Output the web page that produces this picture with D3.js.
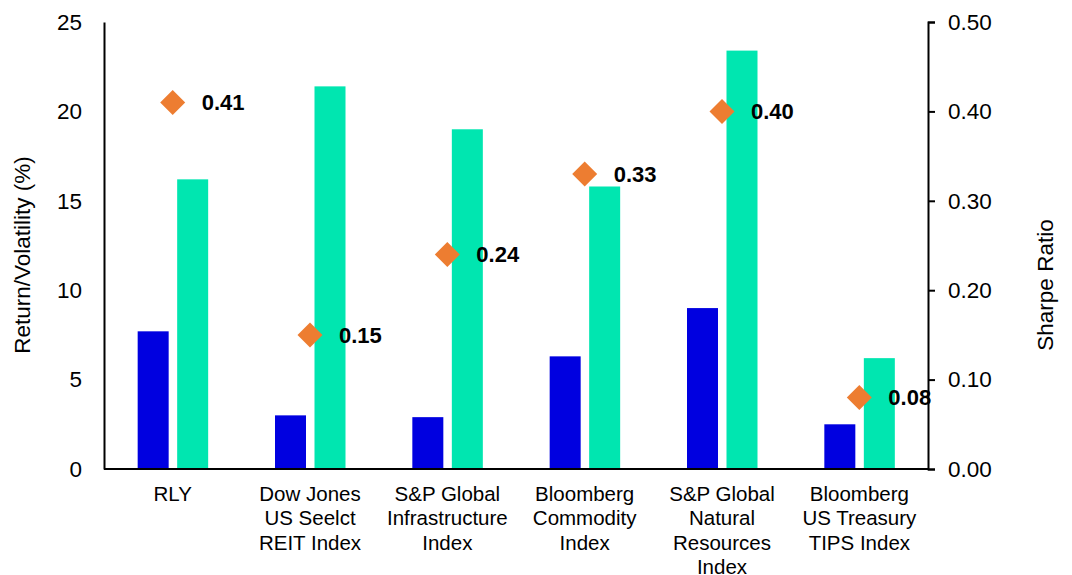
<!DOCTYPE html>
<html>
<head>
<meta charset="utf-8">
<title>Return, volatility and Sharpe ratio</title>
<script src="https://cdn.jsdelivr.net/npm/d3@7"></script>
<style>
  body { margin: 0; background: #fff; }
  text { font-family: Arial, "Liberation Sans", sans-serif; fill: #000; }
</style>
</head>
<body>
<svg id="chart" width="1072" height="575"></svg>
<script>
  // data
  var categories = [
    ["RLY"],
    ["Dow Jones", "US Seelct", "REIT Index"],
    ["S&P Global", "Infrastructure", "Index"],
    ["Bloomberg", "Commodity", "Index"],
    ["S&P Global", "Natural", "Resources", "Index"],
    ["Bloomberg", "US Treasury", "TIPS Index"]
  ];
  var returns = [7.7, 3.0, 2.9, 6.3, 9.0, 2.5];
  var volatility = [16.2, 21.4, 19.0, 15.8, 23.4, 6.2];
  var sharpe = [0.41, 0.15, 0.24, 0.33, 0.40, 0.08];
  var leftTicks = [0, 5, 10, 15, 20, 25];
  var rightTicks = [0, 0.1, 0.2, 0.3, 0.4, 0.5];

  // plot box (note: "top" is reserved on window, so use plot* names)
  var plotL = 104, plotR = 928, plotT = 22, plotB = 469;
  var svg = d3.select("#chart");

  var x = d3.scaleBand().domain(d3.range(categories.length)).range([plotL, plotR]);
  var yL = d3.scaleLinear().domain([0, 25]).range([plotB, plotT]);
  var yR = d3.scaleLinear().domain([0, 0.5]).range([plotB, plotT]);

  var barW = 31;
  function mid(i) { return x(i) + x.bandwidth() / 2; }

  // return bars
  svg.append("g").selectAll("rect").data(returns).enter().append("rect")
    .attr("x", function(d, i) { return mid(i) - 35; })
    .attr("y", function(d) { return yL(d); })
    .attr("width", barW)
    .attr("height", function(d) { return plotB - yL(d); })
    .attr("fill", "#0000e0");

  // volatility bars
  svg.append("g").selectAll("rect").data(volatility).enter().append("rect")
    .attr("x", function(d, i) { return mid(i) + 4.5; })
    .attr("y", function(d) { return yL(d); })
    .attr("width", barW)
    .attr("height", function(d) { return plotB - yL(d); })
    .attr("fill", "#00e6b0");

  // left axis (no ticks)
  var axL = svg.append("g").attr("transform", "translate(" + plotL + ",0)")
    .call(d3.axisLeft(yL).tickValues(leftTicks).tickSize(0).tickPadding(22));
  axL.select(".domain").attr("stroke", "#000").attr("stroke-width", 2);
  axL.selectAll("text").style("font-size", "22.5px").attr("font-family", null);

  // right axis
  var axR = svg.append("g").attr("transform", "translate(" + plotR + ",0)")
    .call(d3.axisRight(yR).tickValues(rightTicks).tickSize(7).tickSizeOuter(7)
      .tickPadding(13).tickFormat(d3.format(".2f")));
  axR.select(".domain").attr("stroke", "#000").attr("stroke-width", 2);
  axR.selectAll(".tick line").attr("stroke", "#000").attr("stroke-width", 2);
  axR.selectAll("text").style("font-size", "22.5px").attr("font-family", null);

  // baseline
  svg.append("line")
    .attr("x1", plotL).attr("x2", plotR)
    .attr("y1", plotB).attr("y2", plotB)
    .attr("stroke", "#000").attr("stroke-width", 2);

  // sharpe diamonds + labels
  var dm = 12.5;
  var pts = svg.append("g").selectAll("g").data(sharpe).enter().append("g")
    .attr("transform", function(d, i) { return "translate(" + mid(i) + "," + yR(d) + ")"; });
  pts.append("path")
    .attr("d", "M0," + (-dm) + "L" + dm + ",0L0," + dm + "L" + (-dm) + ",0Z")
    .attr("fill", "#ed7d31");
  pts.append("text")
    .attr("x", 29)
    .attr("dy", "0.36em")
    .style("font-size", "22px")
    .style("font-weight", "bold")
    .text(function(d) { return d.toFixed(2); });

  // category labels
  var cat = svg.append("g").selectAll("text").data(categories).enter().append("text")
    .attr("text-anchor", "middle")
    .style("font-size", "20.5px")
    .attr("transform", function(d, i) { return "translate(" + mid(i) + ",501)"; });
  cat.selectAll("tspan").data(function(d) { return d; }).enter().append("tspan")
    .attr("x", 0)
    .attr("y", function(d, j) { return j * 24.3; })
    .text(function(d) { return d; });

  // axis titles
  svg.append("text")
    .attr("transform", "translate(30,255) rotate(-90)")
    .attr("text-anchor", "middle")
    .style("font-size", "22.5px")
    .text("Return/Volatility (%)");
  svg.append("text")
    .attr("transform", "translate(1053,285) rotate(-90)")
    .attr("text-anchor", "middle")
    .style("font-size", "22.5px")
    .text("Sharpe Ratio");
</script>
</body>
</html>
